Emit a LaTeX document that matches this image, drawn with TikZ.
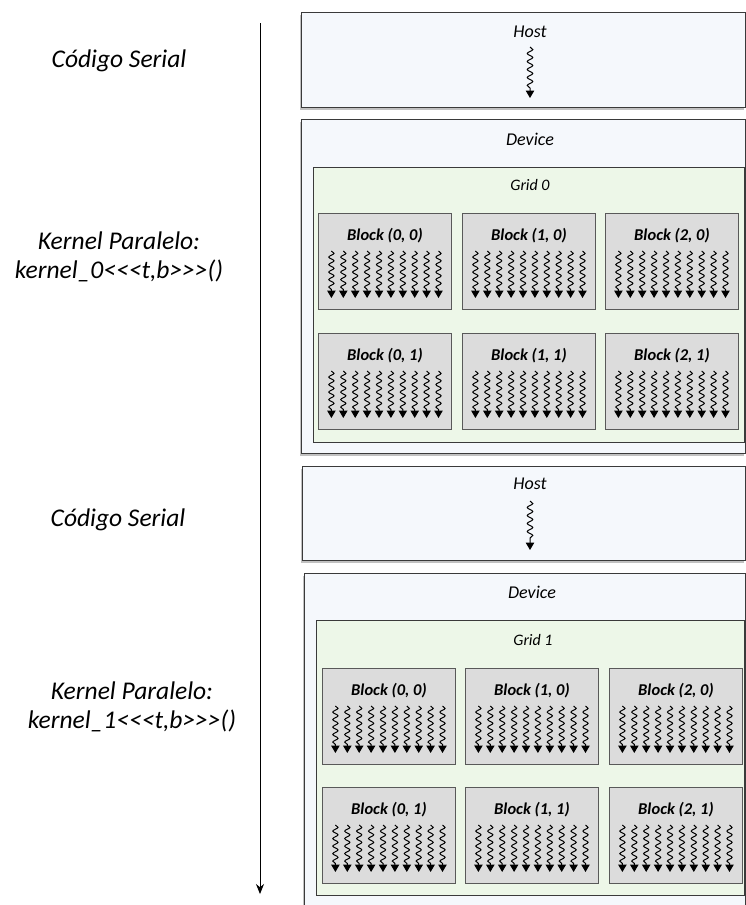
\documentclass[tikz,border=0pt]{standalone}
\usepackage{fontspec}
\setmainfont{Carlito}[Ligatures=TeXOff]
\usetikzlibrary{arrows.meta,decorations.pathmorphing,shadows,calc}

\definecolor{panelfill}{HTML}{F5F8FC}
\definecolor{gridfill}{HTML}{EDF7E8}
\definecolor{blockfill}{HTML}{DCDCDC}
\definecolor{frame}{HTML}{3A3A3A}

% one block of threads: name, left x, top y, label
\newcommand\kblock[4]{%
  \node[blockbox] (#1) at (#2,#3) {};
  \node[blocktext] (#1-t) at ($(#1.north)+(0,23)$) {#4};
  \foreach \i in {0,...,9}{
    \draw[thread] ($(#1.north)+({(\i-4.5)*11.9},38)$) coordinate (#1-s\i)
      -- ($(#1.north)+({(\i-4.5)*11.9},85)$) coordinate (#1-e\i);
  }%
}

\begin{document}
\begin{tikzpicture}[x=1pt,y=-1pt,
  panel/.style={draw=frame, line width=1.1pt, fill=panelfill, anchor=north west, inner sep=0pt,
    drop shadow={shadow xshift=-1.5pt, shadow yshift=-2pt, opacity=0.35, fill=black!70}},
  gridbox/.style={draw=frame, line width=1pt, fill=gridfill, anchor=north west, inner sep=0pt},
  blockbox/.style={draw=black!65, line width=0.9pt, fill=blockfill, anchor=north west, inner sep=0pt,
    minimum width=133pt, minimum height=96pt},
  sidetext/.style={font=\fontsize{25.5}{28.5}\selectfont\itshape, align=center, inner sep=0pt},
  paneltext/.style={font=\fontsize{18}{20}\selectfont\itshape, inner sep=0pt},
  gridtext/.style={font=\fontsize{16}{18}\selectfont\itshape, inner sep=0pt},
  blocktext/.style={font=\fontsize{16.5}{18}\selectfont\bfseries\itshape, inner sep=0pt},
  thread/.style={line width=1pt, decorate,
    decoration={snake, amplitude=2.6pt, segment length=7.5pt, post length=8pt},
    -{Triangle[length=7.5pt,width=8.5pt]}},
  hostthread/.style={line width=1pt, decorate,
    decoration={snake, amplitude=2.8pt, segment length=8pt, post length=9pt},
    -{Triangle[length=7.5pt,width=8.5pt]}},
  timeline/.style={line width=1pt, -{Stealth[length=10pt,width=8pt]}}
]
\useasboundingbox (0,0) rectangle (745,905);

% time axis
\coordinate (tstart) at (260,23);
\coordinate (tend) at (260,894);
\draw[timeline] (tstart) -- (tend);

% phase labels
\node[sidetext] (serial0) at (119,61) {Código Serial};
\node[sidetext] (kern0) at (119,257) {Kernel Paralelo:\\kernel\_0<<<t,b>>>()};
\node[sidetext] (serial1) at (118,520) {Código Serial};
\node[sidetext] (kern1) at (132,707) {Kernel Paralelo:\\kernel\_1<<<t,b>>>()};

% first host phase
\node[panel, minimum width=444pt, minimum height=95pt] (host0) at (301,12) {};
\node[paneltext] (host0-t) at (530,32) {Host};
\coordinate (host0-a) at (530,47);
\coordinate (host0-b) at (530,98);
\draw[hostthread] (host0-a) -- (host0-b);

% first device phase
\node[panel, minimum width=444pt, minimum height=334pt] (dev0) at (301,119) {};
\node[paneltext] (dev0-t) at (530,139) {Device};
\node[gridbox, minimum width=431pt, minimum height=275pt] (grid0) at (313,167) {};
\node[gridtext] (grid0-t) at (530,185) {Grid 0};
\kblock{g0b00}{318}{213}{Block (0, 0)}
\kblock{g0b10}{462}{213}{Block (1, 0)}
\kblock{g0b20}{605}{213}{Block (2, 0)}
\kblock{g0b01}{318}{333}{Block (0, 1)}
\kblock{g0b11}{462}{333}{Block (1, 1)}
\kblock{g0b21}{605}{333}{Block (2, 1)}

% second host phase
\node[panel, minimum width=443pt, minimum height=94pt] (host1) at (302,466) {};
\node[paneltext] (host1-t) at (530,484) {Host};
\coordinate (host1-a) at (530,501);
\coordinate (host1-b) at (530,550);
\draw[hostthread] (host1-a) -- (host1-b);

% second device phase
\node[panel, minimum width=441pt, minimum height=340pt] (dev1) at (304,573) {};
\node[paneltext] (dev1-t) at (532,592) {Device};
\node[gridbox, minimum width=428pt, minimum height=275pt] (grid1) at (316,620) {};
\node[gridtext] (grid1-t) at (533,640) {Grid 1};
\kblock{g1b00}{322}{668}{Block (0, 0)}
\kblock{g1b10}{465}{668}{Block (1, 0)}
\kblock{g1b20}{609}{668}{Block (2, 0)}
\kblock{g1b01}{322}{787}{Block (0, 1)}
\kblock{g1b11}{465}{787}{Block (1, 1)}
\kblock{g1b21}{609}{787}{Block (2, 1)}
\end{tikzpicture}
\end{document}
